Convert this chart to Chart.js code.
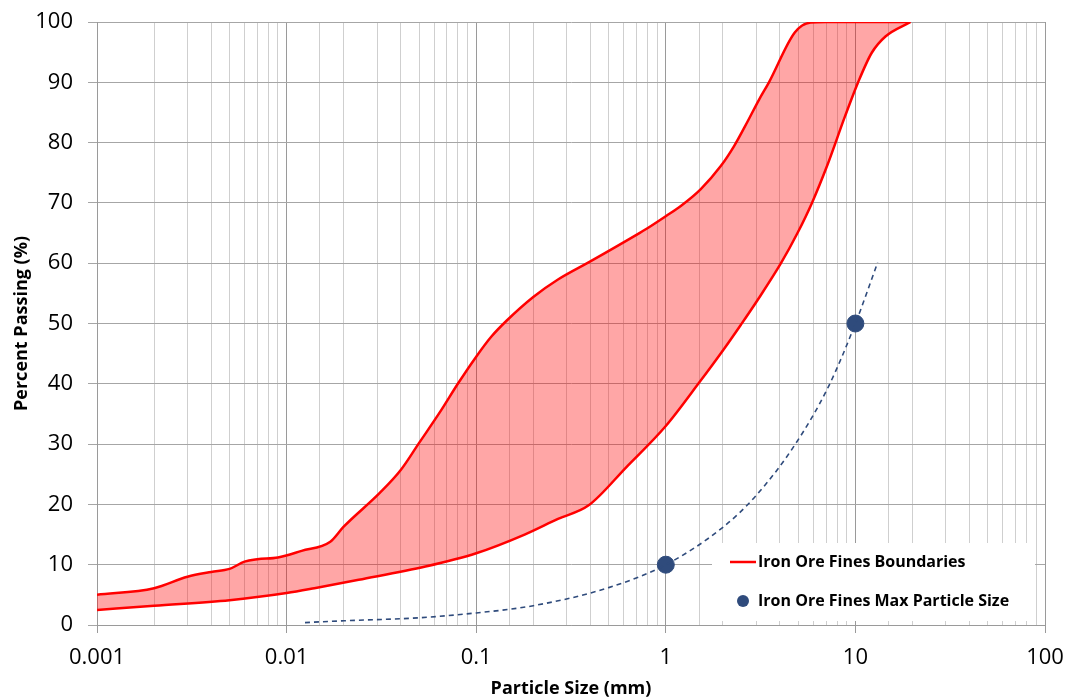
<!DOCTYPE html>
<html>
<head>
<meta charset="utf-8">
<title>Iron Ore Fines - Particle Size Distribution</title>
<script src="https://cdn.jsdelivr.net/npm/chart.js@4.4.1/dist/chart.umd.min.js"></script>
<style>
  html, body { margin: 0; padding: 0; background: #ffffff; }
  #wrap { width: 1069px; height: 700px; position: relative; }
</style>
</head>
<body>
<div id="wrap"><canvas id="psdChart"></canvas></div>
<script>
// Upper boundary (fine side)
const upperSize = [0.001, 0.002, 0.003, 0.004, 0.005, 0.006, 0.007, 0.009, 0.012, 0.017, 0.02, 0.031, 0.04, 0.05, 0.065, 0.08, 0.1, 0.12, 0.145, 0.2, 0.27, 0.4, 0.7, 0.8, 1.0, 1.2, 1.53, 1.95, 2.3, 2.7, 3.1, 3.5, 4.8, 5.8, 7, 10, 19.5];
const upperPass = [5.0, 6.1, 8.0, 8.8, 9.3, 10.5, 10.9, 11.2, 12.3, 13.8, 16.3, 21.9, 25.7, 30.2, 35.5, 40.0, 44.5, 47.8, 50.5, 54.4, 57.3, 60.3, 64.7, 65.8, 67.8, 69.5, 72.3, 76.1, 79.5, 83.5, 87.1, 90.0, 98.3, 99.9, 100, 100, 100];

// Lower boundary (coarse side)
const lowerSize = [0.001, 0.002, 0.005, 0.01, 0.014, 0.024, 0.054, 0.1, 0.18, 0.27, 0.39, 0.62, 1.0, 1.5, 2.04, 2.49, 3.05, 4.05, 4.95, 5.9, 7.1, 8.8, 10.3, 12.2, 14.4, 19.5];
const lowerPass = [2.5, 3.2, 4.1, 5.3, 6.1, 7.5, 9.7, 11.9, 15.0, 17.6, 19.8, 26.2, 33.0, 40.2, 45.9, 49.8, 53.9, 60.0, 65.0, 70.0, 76.2, 84.3, 89.9, 94.9, 97.6, 100];

// Max particle size points and the dashed trend through them
const maxSize = [1, 10];
const maxPass = [10, 50];
const trendSize = [0.0125, 0.02, 0.05, 0.1, 0.2, 0.5, 1, 2, 3, 4.8, 7.2, 10, 13.1];
const trendPass = [0.4, 0.7, 1.2, 2.0, 3.2, 6.2, 10, 16.2, 21.5, 29.9, 39.5, 50, 60.1];

// Axis tick labels
const xTickValues = [0.001, 0.01, 0.1, 1, 10, 100];
const xTickLabels = ['0.001', '0.01', '0.1', '1', '10', '100'];

const RED = '#ff0000';
const NAVY = '#2f4b7c';

function toPoints(xs, ys) {
    return xs.map((x, i) => ({ x: x, y: ys[i] }));
}

function decadeIndex(v) {
    for (let i = 0; i < xTickValues.length; i++) {
        if (Math.abs(v - xTickValues[i]) / xTickValues[i] < 1e-6) return i;
    }
    return -1;
}

// Legend drawn inside the plot area, bottom right
const insideLegend = {
    id: 'insideLegend',
    afterDraw(chart) {
        const ctx = chart.ctx;
        ctx.save();
        ctx.fillStyle = '#ffffff';
        ctx.fillRect(712, 543, 323, 78);
        ctx.font = 'bold 16px "Open Sans"';
        ctx.textBaseline = 'middle';
        ctx.fillStyle = '#000000';

        ctx.strokeStyle = RED;
        ctx.lineWidth = 2.5;
        ctx.beginPath();
        ctx.moveTo(730, 562);
        ctx.lineTo(756, 562);
        ctx.stroke();
        ctx.fillText('Iron Ore Fines Boundaries', 758, 562);

        ctx.fillStyle = NAVY;
        ctx.beginPath();
        ctx.arc(743, 601, 6, 0, Math.PI * 2);
        ctx.fill();
        ctx.fillStyle = '#000000';
        ctx.fillText('Iron Ore Fines Max Particle Size', 758, 601);
        ctx.restore();
    }
};

Chart.defaults.font.family = '"Open Sans", sans-serif';
Chart.defaults.color = '#000000';

const ctx = document.getElementById('psdChart').getContext('2d');
const psdChart = new Chart(ctx, {
    type: 'line',
    data: {
        datasets: [
            {
                label: 'Iron Ore Fines Boundaries',
                data: toPoints(upperSize, upperPass),
                borderColor: RED,
                borderWidth: 2.5,
                backgroundColor: 'rgba(255, 0, 0, 0.35)',
                pointRadius: 0,
                cubicInterpolationMode: 'monotone',
                fill: '+1'
            },
            {
                label: 'Lower boundary',
                data: toPoints(lowerSize, lowerPass),
                borderColor: RED,
                borderWidth: 2.5,
                pointRadius: 0,
                cubicInterpolationMode: 'monotone',
                fill: false
            },
            {
                label: 'Trend',
                data: toPoints(trendSize, trendPass),
                borderColor: NAVY,
                borderWidth: 1.6,
                borderDash: [5, 4],
                pointRadius: 0,
                cubicInterpolationMode: 'monotone',
                fill: false
            },
            {
                label: 'Iron Ore Fines Max Particle Size',
                data: toPoints(maxSize, maxPass),
                showLine: false,
                pointRadius: 8.5,
                pointBackgroundColor: NAVY,
                pointBorderColor: NAVY,
                fill: false
            }
        ]
    },
    options: {
        responsive: true,
        maintainAspectRatio: false,
        animation: false,
        layout: { padding: { top: 22, right: 24, left: 0, bottom: 0 } },
        plugins: {
            legend: { display: false },
            tooltip: { enabled: false }
        },
        scales: {
            x: {
                type: 'logarithmic',
                min: 0.001,
                max: 100,
                afterFit(scale) {
                    scale.height = 75;
                    scale.paddingLeft = 0;
                    scale.paddingRight = 0;
                },
                grid: {
                    color: (c) => (c.tick && decadeIndex(c.tick.value) >= 0) ? '#9a9a9a' : '#cfcfcf',
                    tickColor: (c) => (c.tick && decadeIndex(c.tick.value) >= 0) ? '#9a9a9a' : 'rgba(0,0,0,0)',
                    tickLength: 8,
                    lineWidth: 1
                },
                border: { color: '#9a9a9a' },
                ticks: {
                    autoSkip: false,
                    maxRotation: 0,
                    padding: 12,
                    font: { size: 22 },
                    callback: function (value) {
                        const i = decadeIndex(value);
                        return i >= 0 ? xTickLabels[i] : '';
                    }
                },
                title: {
                    display: true,
                    text: 'Particle Size (mm)',
                    font: { size: 18, weight: 'bold' },
                    padding: { top: 0, bottom: 0 }
                }
            },
            y: {
                min: 0,
                max: 100,
                afterFit(scale) {
                    scale.width = 97;
                    scale.paddingTop = 0;
                    scale.paddingBottom = 0;
                },
                grid: {
                    color: '#a6a6a6',
                    tickColor: '#a6a6a6',
                    tickLength: 9,
                    lineWidth: 1
                },
                border: { color: '#9a9a9a' },
                ticks: {
                    stepSize: 10,
                    padding: 15,
                    font: { size: 22 }
                },
                title: {
                    display: true,
                    text: 'Percent Passing (%)',
                    font: { size: 18, weight: 'bold' },
                    padding: { top: 11, bottom: 0 }
                }
            }
        }
    },
    plugins: [insideLegend]
});
</script>
</body>
</html>
